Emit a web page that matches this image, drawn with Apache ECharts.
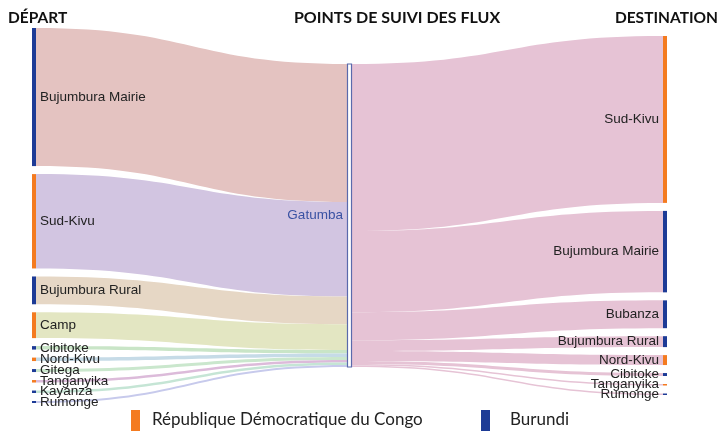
<!DOCTYPE html>
<html>
<head>
<meta charset="utf-8">
<script src="https://cdn.jsdelivr.net/npm/echarts@6/dist/echarts.min.js"></script>
<style>
  html, body { margin: 0; padding: 0; background: #fff; }
  #chart { width: 725px; height: 431px; }
</style>
</head>
<body>
<div id="chart"></div>
<script>
// departs -> Gatumba -> destinations
var departs = ['Bujumbura Mairie', 'Sud-Kivu', 'Bujumbura Rural', 'Camp', 'Cibitoke', 'Nord-Kivu', 'Gitega', 'Tanganyika', 'Kayanza', 'Rumonge'];
var departValues = [139, 95, 28, 26, 3.5, 3.5, 3, 2.5, 2.5, 2];
var departPays = ['BI', 'RDC', 'BI', 'RDC', 'BI', 'RDC', 'BI', 'RDC', 'BI', 'BI'];

var pointSuivi = 'Gatumba';

var destinations = ['Sud-Kivu', 'Bujumbura Mairie', 'Bubanza', 'Bujumbura Rural', 'Nord-Kivu', 'Cibitoke', 'Tanganyika', 'Rumonge'];
var destValues = [168, 82, 28, 11, 10, 3, 1.5, 1.5];
var destPays = ['RDC', 'BI', 'BI', 'BI', 'RDC', 'BI', 'RDC', 'BI'];

var legendLabels = ['République Démocratique du Congo', 'Burundi'];

// couleurs
var paysColor = { RDC: '#f47b20', BI: '#1d3b96' };
var departLinkColors = ['#e4c3c1', '#d2c5e1', '#e6d7c5', '#e3e6c2', '#c9e5c7', '#c6dbe7', '#cae7cd', '#dcbbda', '#c5e5d5', '#c7caec'];
var destLinkColor = '#e6c3d5';

var H = 431 - 28 - 28, GAP = 8;
function sum(a) { var s = 0; for (var k = 0; k < a.length; k++) s += a[k]; return s; }
var total = sum(departValues);
var ky = (H - (departs.length - 1) * GAP) / total;
// chaque colonne centree verticalement
function colLocalY(vals) {
    var h = sum(vals) * ky + (vals.length - 1) * GAP;
    var y = (H - h) / 2, out = [];
    for (var k = 0; k < vals.length; k++) { out.push(y / H); y += vals[k] * ky + GAP; }
    return out;
}
var srcY = colLocalY(departValues), dstY = colLocalY(destValues), midY = colLocalY([total]);

var nodes = [];
var links = [];
for (var i = 0; i < departs.length; i++) {
    nodes.push({
        name: 'src:' + departs[i],
        localY: srcY[i],
        itemStyle: { color: paysColor[departPays[i]] },
        label: { position: 'right' }
    });
    links.push({
        source: 'src:' + departs[i],
        target: 'mid:' + pointSuivi,
        value: departValues[i],
        lineStyle: { color: departLinkColors[i] }
    });
}
nodes.push({
    name: 'mid:' + pointSuivi,
    localY: midY[0],
    itemStyle: { color: '#ffffff', borderColor: '#5a6aac', borderWidth: 1.2 },
    label: { position: 'left', color: '#3a52a3', distance: 4 }
});
for (var j = 0; j < destinations.length; j++) {
    nodes.push({
        name: 'dst:' + destinations[j],
        localY: dstY[j],
        itemStyle: { color: paysColor[destPays[j]] },
        label: { position: 'left' }
    });
    links.push({
        source: 'mid:' + pointSuivi,
        target: 'dst:' + destinations[j],
        value: destValues[j],
        lineStyle: { color: destLinkColor }
    });
}

var myChart = echarts.init(document.getElementById('chart'), null, { renderer: 'canvas' });
var titleStyle = { fontFamily: 'Lato', fontWeight: 'bold', fontSize: 15.5, color: '#111' };
var option = {
    animation: false,
    title: [
        { text: 'DÉPART', left: 8, top: 10, padding: 0, textStyle: titleStyle },
        { text: 'POINTS DE SUIVI DES FLUX', left: 397, top: 10, padding: 0, textAlign: 'center', textStyle: { fontFamily: 'Lato', fontWeight: 'bold', fontSize: 16, color: '#111' } },
        { text: 'DESTINATION', right: 7, top: 10, padding: 0, textStyle: titleStyle }
    ],
    graphic: [
        { type: 'rect', left: 131, top: 410, shape: { width: 9, height: 21 }, style: { fill: paysColor.RDC } },
        { type: 'text', left: 152, top: 411, style: { text: legendLabels[0], font: '17px Lato', fill: '#222' } },
        { type: 'rect', left: 481, top: 410, shape: { width: 9, height: 21 }, style: { fill: paysColor.BI } },
        { type: 'text', left: 510, top: 411, style: { text: legendLabels[1], font: '17px Lato', fill: '#222' } }
    ],
    series: [{
        type: 'sankey',
        left: 32,
        right: 58,
        top: 28,
        bottom: 28,
        nodeWidth: 4,
        nodeGap: GAP,
        draggable: false,
        emphasis: { disabled: true },
        label: {
            fontFamily: 'Liberation Sans',
            fontSize: 13.5,
            color: '#222',
            distance: 4,
            formatter: function (p) { return p.name.slice(4); }
        },
        lineStyle: { opacity: 1, curveness: 0.5 },
        data: nodes,
        links: links
    }]
};
myChart.setOption(option);
</script>
</body>
</html>
